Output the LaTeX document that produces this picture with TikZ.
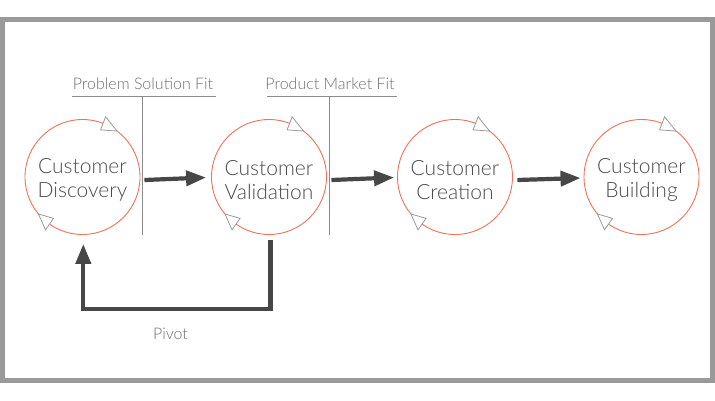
\documentclass[tikz,border=0pt]{standalone}
\usepackage{fontspec}
\IfFontExistsTF{Lato Light}{\setmainfont{Lato Light}}{\setmainfont{Lato}}
\usetikzlibrary{arrows.meta,calc}
\definecolor{coral}{HTML}{F0715A}
\definecolor{txt}{HTML}{4A4A4A}
\definecolor{lbl}{HTML}{6E6E6E}
\definecolor{rule}{HTML}{8C8C8C}
\definecolor{arr}{HTML}{474747}
\definecolor{frame}{HTML}{999999}
\tikzset{
  stage/.style={circle, draw=coral, line width=0.9pt, minimum size=115pt, inner sep=0pt},
  stagetext/.style={align=center, text=txt, inner sep=0pt, yshift=-3pt,
    font=\fontsize{21}{24}\selectfont},
  fitlabel/.style={anchor=base, text=lbl, inner sep=0pt, font=\fontsize{16}{18}\selectfont},
  fitrule/.style={draw=rule, line width=0.9pt},
  bigarrow/.style={draw=arr, line width=4.2pt, -{Triangle[length=20pt,width=15pt]}},
  rotmark/.style={draw=frame, fill=white, line width=0.8pt, line join=miter},
}
\newcommand\rotmarks[1]{%
  \foreach \a/\b in {-69/-53,-235/-220}{%
    \draw[rotmark] ($(#1.center)+(\a:50.5)$) -- ($(#1.center)+(\a:64.5)$) -- ($(#1.center)+(\b:57.5)$) -- cycle;
  }%
}
\begin{document}
\begin{tikzpicture}[x=1pt,y=-1pt]
\useasboundingbox (0,0) rectangle (715,400);
\draw[draw=frame, line width=5pt] (2.5,19.5) rectangle (712.5,380.5);

% fit labels
\node[fitlabel] (psf) at (143,89) {Problem Solution Fit};
\node[fitlabel] (pmf) at (330,89) {Product Market Fit};
\coordinate (psfL) at (72,96);
\coordinate (psfR) at (216,96);
\coordinate (psfT) at (142.5,96);
\coordinate (psfB) at (142.5,235);
\coordinate (pmfL) at (266.5,96);
\coordinate (pmfR) at (396.5,96);
\coordinate (pmfT) at (329.5,96);
\coordinate (pmfB) at (329.5,235);
\draw[fitrule] (psfL) -- (psfR);
\draw[fitrule] (psfT) -- (psfB);
\draw[fitrule] (pmfL) -- (pmfR);
\draw[fitrule] (pmfT) -- (pmfB);

% stages
\node[stage, label={[stagetext]center:Customer\\Discovery}] (d) at (82.5,177) {};
\node[stage, label={[stagetext]center:Customer\\Validation}] (v) at (269,177) {};
\node[stage, label={[stagetext]center:Customer\\Creation}] (c) at (455,177) {};
\node[stage, label={[stagetext]center:Customer\\Building}] (b) at (641.5,177) {};
\rotmarks{d}
\rotmarks{v}
\rotmarks{c}
\rotmarks{b}

% forward arrows
\draw[bigarrow] ([xshift=4pt,yshift=-3pt]d.east) -- ([xshift=-5pt,yshift=-0.5pt]v.west);
\draw[bigarrow] ([xshift=4.5pt,yshift=-3pt]v.east) -- ([xshift=-3pt,yshift=-0.5pt]c.west);
\draw[bigarrow] ([xshift=4.5pt,yshift=-3pt]c.east) -- ([xshift=-3pt,yshift=-1pt]b.west);

% pivot
\coordinate (pv) at (270.5,309);
\draw[bigarrow, line join=miter] ([xshift=1.5pt,yshift=-5pt]v.south) |- (pv) -| ([xshift=0.8pt,yshift=-9pt]d.south);
\node[fitlabel] (pivot) at (170.5,339) {Pivot};
\end{tikzpicture}
\end{document}
